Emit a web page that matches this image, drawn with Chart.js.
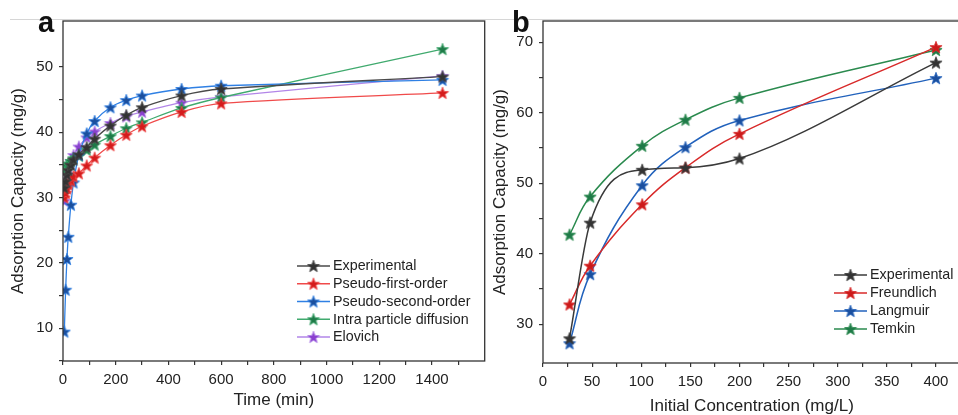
<!DOCTYPE html>
<html>
<head>
<meta charset="utf-8">
<script src="https://cdn.jsdelivr.net/npm/chart.js@4.4.1/dist/chart.umd.min.js"></script>
<style>
	html, body { margin: 0; padding: 0; background: #fff; overflow: hidden; }
	body { width: 958px; height: 415px; position: relative; }
	.topline { position: absolute; left: 10px; top: 19px; width: 948px; height: 1px; background: #d6d6d6; }
	#wrapA { position: absolute; left: 0; top: 0; }
	#wrapB { position: absolute; left: 488px; top: 0; }
</style>
</head>
<body>
<div class="topline"></div>
<div id="wrapA"><canvas id="chartA" width="492" height="415"></canvas></div>
<div id="wrapB"><canvas id="chartB" width="480" height="420"></canvas></div>
<script>
// Panel a: kinetics
const timeMin = [5, 10, 15, 20, 30, 40, 60, 90, 120, 180, 240, 300, 450, 600, 1440];
const expA = [31.5, 32.5, 33.5, 34.2, 35.0, 35.8, 36.6, 37.7, 39.0, 41.0, 42.6, 43.8, 45.6, 46.6, 48.5];
const pseudoFirst = [30.0, 30.7, 31.4, 32.0, 32.6, 33.2, 33.7, 34.9, 36.1, 38.0, 39.6, 40.9, 43.1, 44.4, 46.0];
const pseudoSecond = [9.5, 15.9, 20.6, 24.0, 28.9, 32.3, 36.5, 39.8, 41.7, 43.8, 44.9, 45.6, 46.6, 47.1, 48.0];
const intraParticle = [34.3, 34.6, 34.9, 35.2, 35.6, 36.0, 36.4, 37.3, 38.1, 39.4, 40.6, 41.5, 43.7, 45.3, 52.7];
const elovich = [29.5, 32.0, 33.5, 34.5, 35.5, 36.5, 37.8, 39.2, 40.1, 41.4, 42.4, 43.1, 44.5, 45.4, 48.6];

// Panel b: isotherms
const concB = [27, 48, 101, 145, 200, 400];
const expB = [28.0, 44.4, 51.9, 52.2, 53.5, 67.1];
const freundlich = [32.8, 38.3, 47.0, 52.2, 57.0, 69.3];
const langmuir = [27.3, 37.1, 49.7, 55.1, 58.9, 64.9];
const temkin = [42.7, 48.1, 55.3, 59.0, 62.1, 68.9];

const FONT = "'Liberation Sans', Arial, sans-serif";
const TXT = "#222";

// 5-point star marker
function starImage(fill, edge) {
	const c = document.createElement("canvas");
	c.width = 14;
	c.height = 14;
	const g = c.getContext("2d");
	g.beginPath();
	for (let i = 0; i < 10; i++) {
		const r = i % 2 === 0 ? 6.4 : 2.7;
		const a = -Math.PI / 2 + (i * Math.PI) / 5;
		const px = 7 + r * Math.cos(a);
		const py = 7.6 + r * Math.sin(a);
		if (i === 0) g.moveTo(px, py);
		else g.lineTo(px, py);
	}
	g.closePath();
	g.fillStyle = fill;
	g.fill();
	g.lineWidth = 0.8;
	g.strokeStyle = edge;
	g.stroke();
	return c;
}

function series(label, xs, ys, line, marker, width, mode) {
	return {
		label: label,
		data: xs.map((x, i) => ({ x: x, y: ys[i] })),
		borderColor: line,
		borderWidth: width,
		pointStyle: starImage(marker, line),
		pointRadius: 6,
		cubicInterpolationMode: mode || "default",
		fill: false,
	};
}

function isStep(v, s) {
	return Math.abs(v / s - Math.round(v / s)) < 1e-6;
}

// frame, panel letter and legend
function decorPlugin(letter, letterX, legend) {
	return {
		id: "decor" + letter,
		afterDatasetsDraw(chart) {
			const ctx = chart.ctx;
			const a = chart.chartArea;
			ctx.save();
			ctx.strokeStyle = "#333";
			ctx.lineWidth = 1.3;
			ctx.strokeRect(a.left, a.top, a.right - a.left, a.bottom - a.top);

			ctx.fillStyle = "#111";
			ctx.font = "bold 29px " + FONT;
			ctx.textBaseline = "alphabetic";
			ctx.fillText(letter, letterX, 32);

			ctx.font = "14.3px " + FONT;
			ctx.textBaseline = "middle";
			chart.data.datasets.forEach((ds, i) => {
				const y = legend.y + i * legend.gap;
				ctx.strokeStyle = ds.borderColor;
				ctx.lineWidth = 1.5;
				ctx.beginPath();
				ctx.moveTo(legend.x, y);
				ctx.lineTo(legend.x + 33, y);
				ctx.stroke();
				const img = ds.pointStyle;
				ctx.drawImage(img, legend.x + 16.5 - img.width / 2, y - img.height / 2);
				ctx.fillStyle = TXT;
				ctx.fillText(ds.label, legend.x + 36, y + 0.5);
			});
			ctx.restore();
		},
	};
}

function axis(opts) {
	return {
		type: "linear",
		min: opts.min,
		max: opts.max,
		ticks: {
			stepSize: opts.step,
			autoSkip: false,
			maxRotation: 0,
			padding: opts.pad,
			color: TXT,
			font: { family: FONT, size: 15 },
			callback: (v) => (isStep(v, opts.label) ? v : ""),
		},
		afterBuildTicks: (scale) => {
			scale.ticks = scale.ticks.filter((t) => isStep(t.value, opts.step) && t.value <= opts.lastTick);
		},
		afterFit: (scale) => {
			if (opts.width) scale.width = opts.width;
			if (opts.height) scale.height = opts.height;
		},
		grid: { drawOnChartArea: false, drawTicks: true, tickLength: 4, color: "#333", lineWidth: 1.2 },
		border: { display: false },
		title: {
			display: true,
			text: opts.title,
			color: TXT,
			font: { family: FONT, size: 17 },
			padding: opts.titlePad,
		},
	};
}

const common = {
	responsive: false,
	animation: false,
	events: [],
	plugins: { legend: { display: false }, tooltip: { enabled: false } },
};

new Chart(document.getElementById("chartA"), {
	type: "line",
	data: {
		datasets: [
			series("Experimental", timeMin, expA, "#4a4a4a", "#333333", 1.3),
			series("Pseudo-first-order", timeMin, pseudoFirst, "#f04a4a", "#d41c1c", 1.3),
			series("Pseudo-second-order", timeMin, pseudoSecond, "#2f80e4", "#1b4f9e", 1.3),
			series("Intra particle diffusion", timeMin, intraParticle, "#40aa6e", "#1f7a48", 1.3),
			series("Elovich", timeMin, elovich, "#b286e8", "#8a40cf", 1.3),
		],
	},
	options: {
		...common,
		layout: { padding: { left: 0, right: 6, top: 21, bottom: 0 } },
		elements: { line: { tension: 0.3 } },
		scales: {
			x: axis({ min: 0, max: 1600, step: 100, label: 200, lastTick: 1550, pad: 6, height: 54,
				title: "Time (min)", titlePad: { top: 0, bottom: 4 } }),
			y: axis({ min: 5, max: 57, step: 5, label: 10, lastTick: 56, pad: 6, width: 63,
				title: "Adsorption Capacity (mg/g)", titlePad: { top: 8, bottom: 0 } }),
		},
	},
	plugins: [decorPlugin("a", 38, { x: 297, y: 266, gap: 17.75 })],
});

new Chart(document.getElementById("chartB"), {
	type: "line",
	data: {
		datasets: [
			series("Experimental", concB, expB, "#3a3a3a", "#333333", 1.5, "monotone"),
			series("Freundlich", concB, freundlich, "#d82a2a", "#cc1a1a", 1.5),
			series("Langmuir", concB, langmuir, "#2262bc", "#1b4f9e", 1.5),
			series("Temkin", concB, temkin, "#2a8a4e", "#1f7a48", 1.5),
		],
	},
	options: {
		...common,
		layout: { padding: { left: 0, right: 5, top: 21, bottom: 0 } },
		elements: { line: { tension: 0.4 } },
		scales: {
			x: axis({ min: 0, max: 425, step: 25, label: 50, lastTick: 420, pad: 6, height: 57,
				title: "Initial Concentration (mg/L)", titlePad: { top: 0, bottom: 3 } }),
			y: axis({ min: 24.5, max: 73, step: 5, label: 10, lastTick: 72, pad: 6, width: 55,
				title: "Adsorption Capacity (mg/g)", titlePad: { top: 2, bottom: 0 } }),
		},
	},
	plugins: [decorPlugin("b", 24, { x: 346, y: 275, gap: 18 })],
});
</script>
</body>
</html>
